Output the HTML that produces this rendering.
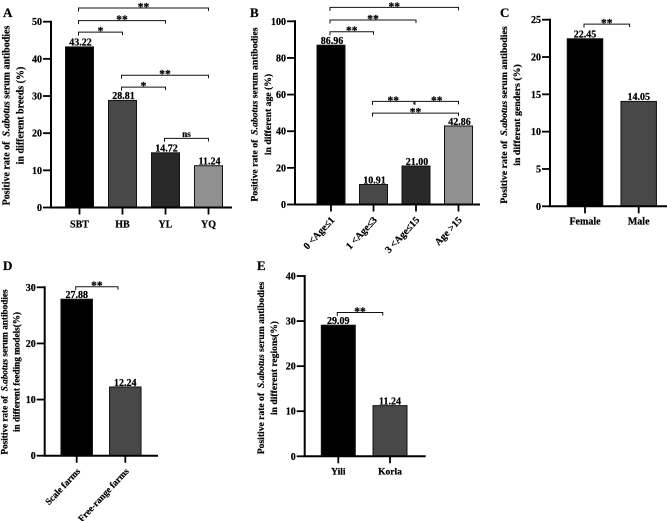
<!DOCTYPE html>
<html>
<head>
<meta charset="utf-8">
<style>
html,body{margin:0;padding:0;background:#fff;width:667px;height:521px;overflow:hidden}
svg{display:block}
text{font-family:"Liberation Serif",serif;font-weight:bold;fill:#000;stroke:#000;stroke-width:0.22px}
</style>
</head>
<body>
<svg id="figure" xmlns="http://www.w3.org/2000/svg" width="667" height="521" viewBox="0 0 667 521"></svg>
<script>
// Panel A
const categoriesA = ['SBT', 'HB', 'YL', 'YQ'];
const valuesA = [43.22, 28.81, 14.72, 11.24];
const labelsA = ['43.22', '28.81', '14.72', '11.24'];
const ticksA = [0, 10, 20, 30, 40, 50];
const bracketFromA = [0, 0, 0, 1, 1, 2];
const bracketToA = [3, 2, 1, 3, 2, 3];
const bracketLevelA = [53.7, 50.3, 47.2, 35.6, 32.4, 18.6];
const bracketTextA = ['**', '**', '*', '**', '*', 'ns'];
// Panel B
const categoriesB = ['0 <Age≤1', '1 <Age≤3', '3 <Age≤15', 'Age >15'];
const valuesB = [86.96, 10.91, 21.00, 42.86];
const labelsB = ['86.96', '10.91', '21.00', '42.86'];
const ticksB = [0, 20, 40, 60, 80, 100];
const bracketFromB = [0, 0, 0, 1, 2, 1];
const bracketToB = [3, 2, 1, 1.95, 3, 3];
const bracketLevelB = [107.6, 100.7, 94.3, 56.3, 56.3, 49.9];
const bracketTextB = ['**', '**', '**', '**', '**', '**'];
// Panel C
const categoriesC = ['Female', 'Male'];
const valuesC = [22.45, 14.05];
const labelsC = ['22.45', '14.05'];
const ticksC = [0, 5, 10, 15, 20, 25];
const bracketFromC = [0];
const bracketToC = [0.83];
const bracketLevelC = [24.4];
const bracketTextC = ['**'];
// Panel D
const categoriesD = ['Scale farms', 'Free-range farms'];
const valuesD = [27.88, 12.24];
const labelsD = ['27.88', '12.24'];
const ticksD = [0, 10, 20, 30];
const bracketFromD = [0];
const bracketToD = [0.85];
const bracketLevelD = [30.1];
const bracketTextD = ['**'];
// Panel E
const categoriesE = ['Yili', 'Korla'];
const valuesE = [29.09, 11.24];
const labelsE = ['29.09', '11.24'];
const ticksE = [0, 10, 20, 30, 40];
const bracketFromE = [0];
const bracketToE = [0.86];
const bracketLevelE = [31.9];
const bracketTextE = ['**'];

const NS = 'http://www.w3.org/2000/svg';
const root = document.getElementById('figure');
const fills = ['#000000', '#484848', '#292929', '#909090'];

function mk(parent, tag, attrs, txt) {
  const el = document.createElementNS(NS, tag);
  for (const k in attrs) el.setAttribute(k, attrs[k]);
  if (txt !== undefined) el.textContent = txt;
  parent.appendChild(el);
  return el;
}

function panel(cfg) {
  const g = mk(root, 'g', {});
  
  
  const yMax = cfg.ticks[cfg.ticks.length - 1];
  const y = v => cfg.y0 - (v / yMax) * (cfg.y0 - cfg.yTop);
  const x = i => cfg.c0 + i * cfg.step;

  const letter = mk(g, 'text', {x: cfg.lx, y: cfg.ly, 'font-size': 13}, cfg.id);
  
  

  cfg.values.forEach((v, i) => {
    const bar = mk(g, 'rect', {
      x: x(i) - cfg.bw / 2, y: y(v), width: cfg.bw, height: cfg.y0 - y(v),
      fill: fills[i], stroke: '#111', 'stroke-width': 1
    });
    
    
    const vl = mk(g, 'text', {x: x(i) + cfg.vdx, y: y(v) - 1.2, 'font-size': 10, 'text-anchor': 'middle'}, cfg.labels[i]);
    
    
    const t = mk(g, 'line', {x1: x(i), x2: x(i), y1: cfg.y0, y2: cfg.y0 + 7, stroke: '#000', 'stroke-width': 1.8});
    
    
    let lab;
    if (cfg.rotate) {
      const lx = x(i) + 4, ly = cfg.y0 + 16;
      lab = mk(g, 'text', {x: lx, y: ly, 'font-size': cfg.catSize, 'text-anchor': 'end', transform: 'rotate(-47 ' + lx + ' ' + ly + ')'}, cfg.categories[i]);
    } else {
      lab = mk(g, 'text', {x: x(i), y: cfg.y0 + cfg.catDy, 'font-size': cfg.catSize, 'text-anchor': 'middle'}, cfg.categories[i]);
    }
    
    
  });

  const xa = mk(g, 'line', {x1: cfg.ax - 1, x2: cfg.xEnd, y1: cfg.y0, y2: cfg.y0, stroke: '#000', 'stroke-width': 2});
  
  
  const ya = mk(g, 'line', {x1: cfg.ax, x2: cfg.ax, y1: cfg.yTop - 1, y2: cfg.y0, stroke: '#000', 'stroke-width': 2});
  
  

  cfg.ticks.forEach(v => {
    const t = mk(g, 'line', {x1: cfg.ax - 8, x2: cfg.ax, y1: y(v), y2: y(v), stroke: '#000', 'stroke-width': 1.8});
    
    
    const l = mk(g, 'text', {x: cfg.ax - 9, y: y(v) + 3.5, 'font-size': 10, 'text-anchor': 'end'}, String(v));
    
    
  });

  cfg.bFrom.forEach((f, i) => {
    const yb = y(cfg.bLevel[i]);
    const x1 = x(f) - 1, x2 = x(cfg.bTo[i]);
    const p = mk(g, 'path', {
      d: 'M' + x1 + ' ' + (yb + 3.5) + 'V' + yb + 'H' + x2 + 'V' + (yb + 3),
      fill: 'none', stroke: '#111', 'stroke-width': 1
    });
    
    
    const s = cfg.bText[i];
    const st = mk(g, 'text', {
      x: (x1 + x2) / 2, y: yb + (s === 'ns' ? -1.5 : 2.5), 'font-size': s === 'ns' ? 9 : 11.5, 'text-anchor': 'middle'
    }, s);
    
    
  });

  const tg = mk(g, 'text', {
    transform: 'translate(' + cfg.tx + ' ' + cfg.tcy + ') rotate(-90)',
    'font-size': cfg.titleSize, 'text-anchor': 'middle'
  });
  
  
  mk(tg, 'tspan', {x: 0, y: 0}, 'Positive rate of\u00a0\u00a0');
  mk(tg, 'tspan', {'font-style': 'italic'}, 'S.abotus');
  mk(tg, 'tspan', {}, ' serum antibodies');
  mk(tg, 'tspan', {x: 0, dy: cfg.titleLead}, cfg.title2);
}

panel({id: 'A', lx: 3, ly: 17, categories: categoriesA, values: valuesA, labels: labelsA, ticks: ticksA,
  y0: 207.5, yTop: 21.7, ax: 51, xEnd: 232, c0: 79.5, step: 43, bw: 28, vdx: 1, catSize: 10, catDy: 20,
  bFrom: bracketFromA, bTo: bracketToA, bLevel: bracketLevelA, bText: bracketTextA,
  tx: 9.5, tcy: 115.5, titleSize: 10, titleLead: 14, title2: 'in different breeds (%)'});
panel({id: 'B', lx: 250, ly: 17, categories: categoriesB, values: valuesB, labels: labelsB, ticks: ticksB,
  y0: 204.5, yTop: 21.3, ax: 295, xEnd: 480, c0: 331, step: 42.5, bw: 28, vdx: 1, catSize: 10, rotate: true,
  bFrom: bracketFromB, bTo: bracketToB, bLevel: bracketLevelB, bText: bracketTextB,
  tx: 257.5, tcy: 114.5, titleSize: 9.7, titleLead: 13.5, title2: 'in different age (%)'});
panel({id: 'C', lx: 500, ly: 17, categories: categoriesC, values: valuesC, labels: labelsC, ticks: ticksC,
  y0: 206.3, yTop: 19.7, ax: 550, xEnd: 667, c0: 585, step: 53.7, bw: 35.5, vdx: 0, catSize: 10, catDy: 18,
  bFrom: bracketFromC, bTo: bracketToC, bLevel: bracketLevelC, bText: bracketTextC,
  tx: 507, tcy: 115, titleSize: 9.9, titleLead: 13, title2: 'in different genders (%)'});
panel({id: 'D', lx: 3, ly: 270, categories: categoriesD, values: valuesD, labels: labelsD, ticks: ticksD,
  y0: 455.7, yTop: 287.3, ax: 44.7, xEnd: 158, c0: 76.7, step: 48.6, bw: 31.5, vdx: 0, catSize: 9.3, rotate: true,
  bFrom: bracketFromD, bTo: bracketToD, bLevel: bracketLevelD, bText: bracketTextD,
  tx: 7.3, tcy: 372, titleSize: 9.2, titleLead: 12, title2: 'in different feeding models(%)'});
panel({id: 'E', lx: 257, ly: 270, categories: categoriesE, values: valuesE, labels: labelsE, ticks: ticksE,
  y0: 456.3, yTop: 276, ax: 304.7, xEnd: 425.7, c0: 338.3, step: 51.7, bw: 34, vdx: 0, catSize: 9.5, catDy: 18,
  bFrom: bracketFromE, bTo: bracketToE, bLevel: bracketLevelE, bText: bracketTextE,
  tx: 264, tcy: 368, titleSize: 9.6, titleLead: 13, title2: 'in different regions(%)'});
</script>
</body>
</html>
